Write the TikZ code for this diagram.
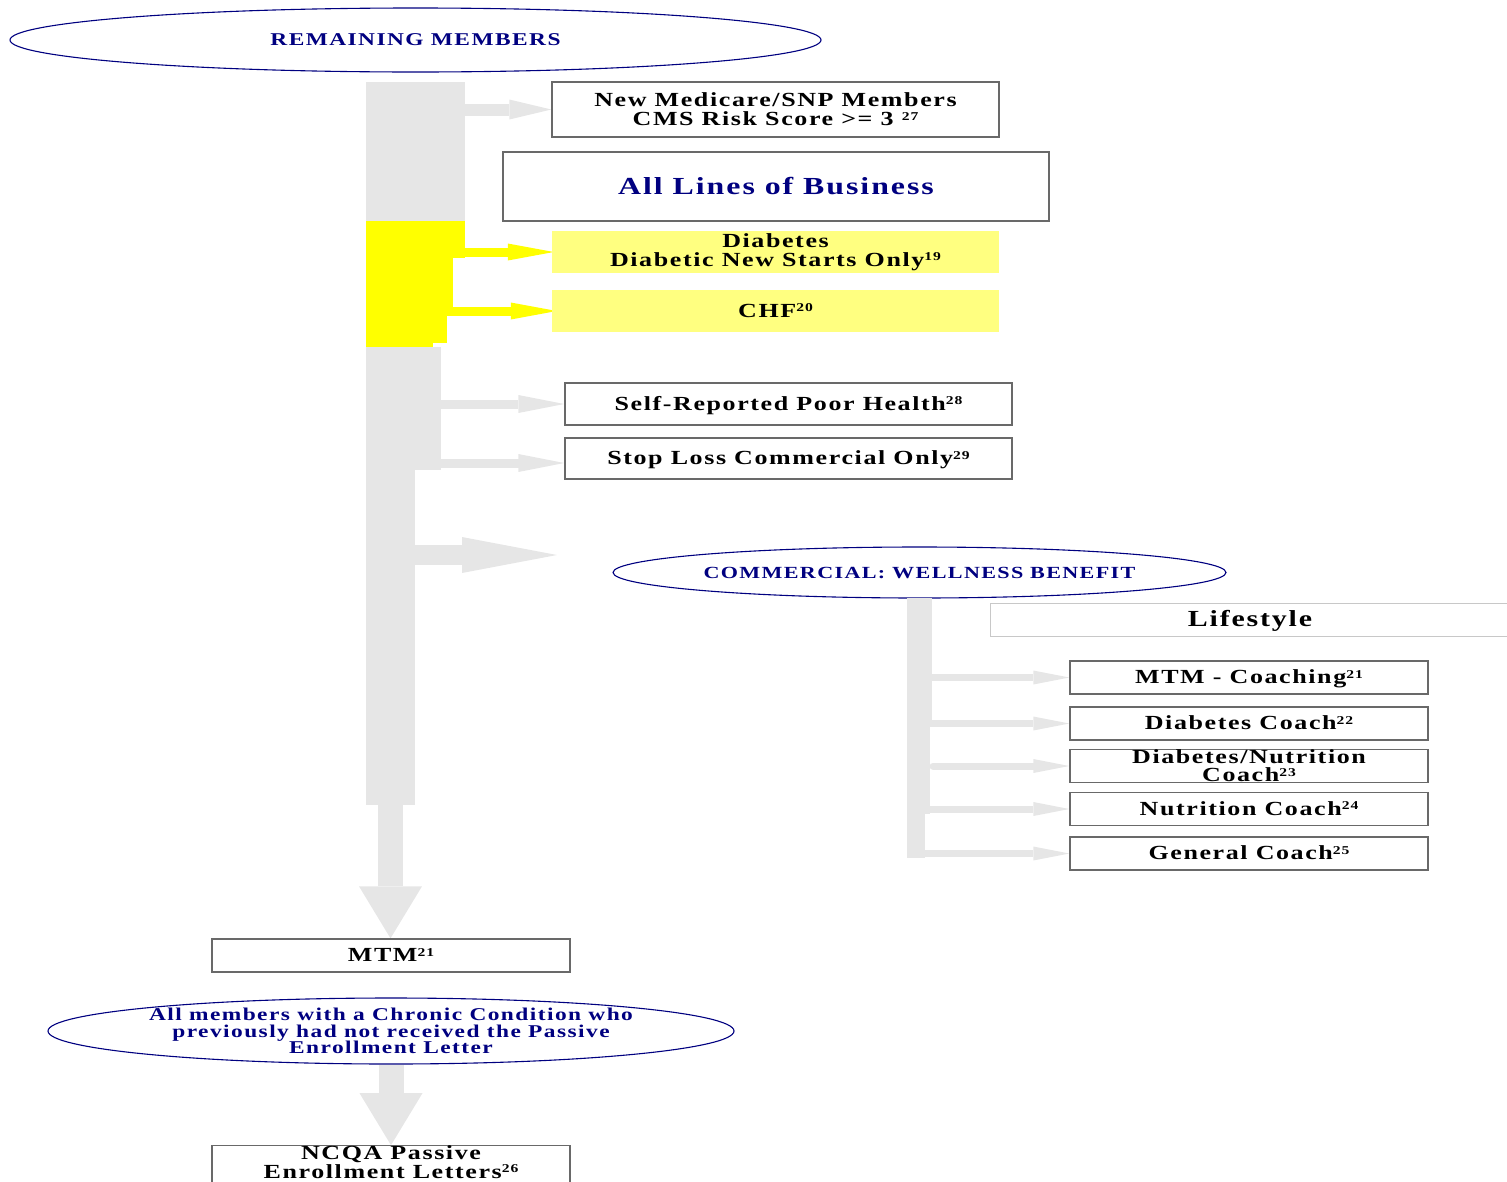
\documentclass[tikz,border=0pt]{standalone}
\usepackage{fontspec}
\setmainfont{Liberation Serif}[FakeStretch=1.3,LetterSpace=8]
\usetikzlibrary{arrows.meta,shapes.geometric,calc}

\definecolor{navyink}{RGB}{0,0,128}
\definecolor{flowgrey}{RGB}{230,230,230}
\definecolor{flowyellow}{RGB}{255,255,0}
\definecolor{paleyellow}{RGB}{255,255,128}
\definecolor{frame}{RGB}{105,105,105}
\definecolor{softframe}{RGB}{200,200,200}

% small raised footnote numbers (kept out of the line height)
\newcommand{\fnref}[1]{\smash{\raisebox{5.5pt}{\fontsize{12pt}{12pt}\selectfont #1}}}

\pgfdeclarelayer{background}
\pgfsetlayers{background,main}

\tikzset{
  txt/.style={font=\bfseries\fontsize{20pt}{19pt}\selectfont, align=center},
  oneline/.style={text height=15pt, text depth=3pt},
  card/.style={txt, draw=frame, line width=1.3pt, fill=white, inner sep=0pt},
  hicard/.style={txt, fill=paleyellow, inner sep=0pt},
  oval/.style={ellipse, draw=navyink, line width=1.1pt, inner sep=0pt},
  ovaltext/.style={txt, text=navyink},
  trunk/.style={fill=flowgrey, inner sep=0pt, outer sep=0pt},
  ytrunk/.style={fill=flowyellow, inner sep=0pt, outer sep=0pt},
  feedA/.style={draw=flowgrey, line width=12pt, -{Triangle[length=42pt,width=20pt,line width=0pt]}},
  feedY/.style={draw=flowyellow, line width=9pt, -{Triangle[length=46pt,width=17pt,line width=0pt]}},
  feedB/.style={draw=flowgrey, line width=9pt, -{Triangle[length=46pt,width=18pt,line width=0pt]}},
  feedC/.style={draw=flowgrey, line width=20pt, -{Triangle[length=95pt,width=36pt,line width=0pt]}},
  feedR/.style={draw=flowgrey, line width=7pt, -{Triangle[length=36pt,width=14pt,line width=0pt]}},
  feedD/.style={draw=flowgrey, line width=25pt, -{Triangle[length=52pt,width=63pt,line width=0pt]}},
}

\begin{document}
\begin{tikzpicture}[x=1pt,y=-1pt]
\useasboundingbox (0,0) rectangle (1507,1181);
\clip (0,0) rectangle (1507,1181);

% top oval
\node[oval, minimum width=811pt, minimum height=64pt,
      label={[ovaltext, font=\bfseries\fontsize{18pt}{18pt}\selectfont]center:{REMAINING MEMBERS}}]
      (remain) at (415.5,40) {};

% main trunk, grey / yellow / grey
\node[trunk, minimum width=99pt, minimum height=139pt] (trunkA) at (415.5,151.5) {};
\node[ytrunk, minimum width=99pt, minimum height=37pt] (yA) at (415.5,239.5) {};
\node[ytrunk, minimum width=87pt, minimum height=58pt] (yB) at (409.5,287) {};
\node[ytrunk, minimum width=81pt, minimum height=27pt] (yC) at (406.5,329.5) {};
\node[ytrunk, minimum width=67pt, minimum height=4pt] (yD) at (399.5,345) {};
\node[trunk, minimum width=75pt, minimum height=123pt] (trunkB) at (403.5,408.5) {};
\node[trunk, minimum width=49pt, minimum height=335pt] (trunkC) at (390.5,637.5) {};

% target boxes
\node[card, minimum width=447pt, minimum height=55pt] (newmed) at (775.5,109.5)
  {New Medicare/SNP Members\\CMS Risk Score >= 3 \fnref{27}};
\node[card, minimum width=546pt, minimum height=69pt, text=navyink, text height=18pt, text depth=3pt,
      font=\bfseries\fontsize{24.5pt}{24pt}\selectfont] (alllob) at (776,186.5) {All Lines of Business};
\node[hicard, minimum width=447pt, minimum height=42pt] (diab) at (775.5,252)
  {Diabetes\\Diabetic New Starts Only\fnref{19}};
\node[hicard, oneline, minimum width=447pt, minimum height=42pt] (chf) at (775.5,311) {CHF\fnref{20}};
\node[card, oneline, minimum width=447pt, minimum height=42pt] (poor) at (788.5,404)
  {Self-Reported Poor Health\fnref{28}};
\node[card, oneline, minimum width=447pt, minimum height=41pt] (stoploss) at (788.5,458.5)
  {Stop Loss Commercial Only\fnref{29}};

% commercial wellness branch
\coordinate (commtip) at (557,555);
\node[oval, minimum width=613pt, minimum height=51pt,
      label={[ovaltext, font=\bfseries\fontsize{17pt}{17pt}\selectfont]center:{COMMERCIAL: WELLNESS BENEFIT}}]
      (wellness) at (919.5,572.5) {};
\node[trunk, minimum width=25pt, minimum height=129pt] (tR1) at (919.5,662.5) {};
\node[trunk, minimum width=23pt, minimum height=87pt] (tR2) at (918.5,770.5) {};
\node[trunk, minimum width=18pt, minimum height=44pt] (tR3) at (916,836) {};
\node[card, draw=softframe, line width=1pt, minimum width=520pt, minimum height=33pt,
      text height=17pt, text depth=4pt,
      font=\bfseries\fontsize{23pt}{23pt}\selectfont] (life) at (1250,619.5) {Lifestyle};
\node[card, oneline, minimum width=358pt, minimum height=33pt] (mtmc) at (1249,677.5) {MTM - Coaching\fnref{21}};
\node[card, oneline, minimum width=358pt, minimum height=33pt] (dcoach) at (1249,723.5) {Diabetes Coach\fnref{22}};
\node[card, minimum width=358pt, minimum height=33pt, font=\bfseries\fontsize{20pt}{18pt}\selectfont]
  (dncoach) at (1249,766) {Diabetes/Nutrition\\Coach\fnref{23}};
\node[card, oneline, minimum width=358pt, minimum height=33pt] (ncoach) at (1249,809) {Nutrition Coach\fnref{24}};
\node[card, oneline, minimum width=358pt, minimum height=33pt] (gcoach) at (1249,853.5) {General Coach\fnref{25}};

% lower chain
\node[card, oneline, minimum width=358pt, minimum height=33pt] (mtm) at (391,955.5) {MTM\fnref{21}};
\node[oval, minimum width=686pt, minimum height=66pt,
      label={[ovaltext, font=\bfseries\fontsize{18pt}{16.5pt}\selectfont]center:{All members with a Chronic Condition who\\previously had not received the Passive\\Enrollment Letter}}]
      (chronic) at (391,1031) {};
\node[card, minimum width=358pt, minimum height=35pt, text depth=5pt,
      font=\bfseries\fontsize{20pt}{18.5pt}\selectfont]
  (ncqa) at (391,1164.5) {NCQA Passive\\Enrollment Letters\fnref{26}};

% connectors
\begin{pgfonlayer}{background}
\draw[feedA] (trunkA.east |- newmed.west) -- (newmed.west);
\draw[feedY] (yA.east |- diab.west) -- ([xshift=2pt]diab.west);
\draw[feedY] (yB.east |- chf.west) -- ([xshift=5pt]chf.west);
\draw[feedB] (trunkB.east |- poor.west) -- (poor.west);
\draw[feedB, line cap=round] ($(stoploss.west -| trunkB.east)+(0,4.5)$) -- ($(stoploss.west)+(0,4.5)$);
\draw[feedC] (trunkC.east |- commtip) -- (commtip);
\draw[feedR] (tR1.east |- mtmc.west) -- (mtmc.west);
\draw[feedR] (tR1.east |- dcoach.west) -- (dcoach.west);
\draw[feedR, line cap=round] ($(tR2.east |- dncoach.west)+(3,0)$) -- (dncoach.west);
\draw[feedR] (tR2.east |- ncoach.west) -- (ncoach.west);
\draw[feedR] (tR3.west |- gcoach.west) -- (gcoach.west);
\draw[feedD] (trunkC.south) -- (trunkC.south |- mtm.north);
\draw[feedD] (chronic.south) -- (ncqa.north);
\end{pgfonlayer}
\end{tikzpicture}
\end{document}
